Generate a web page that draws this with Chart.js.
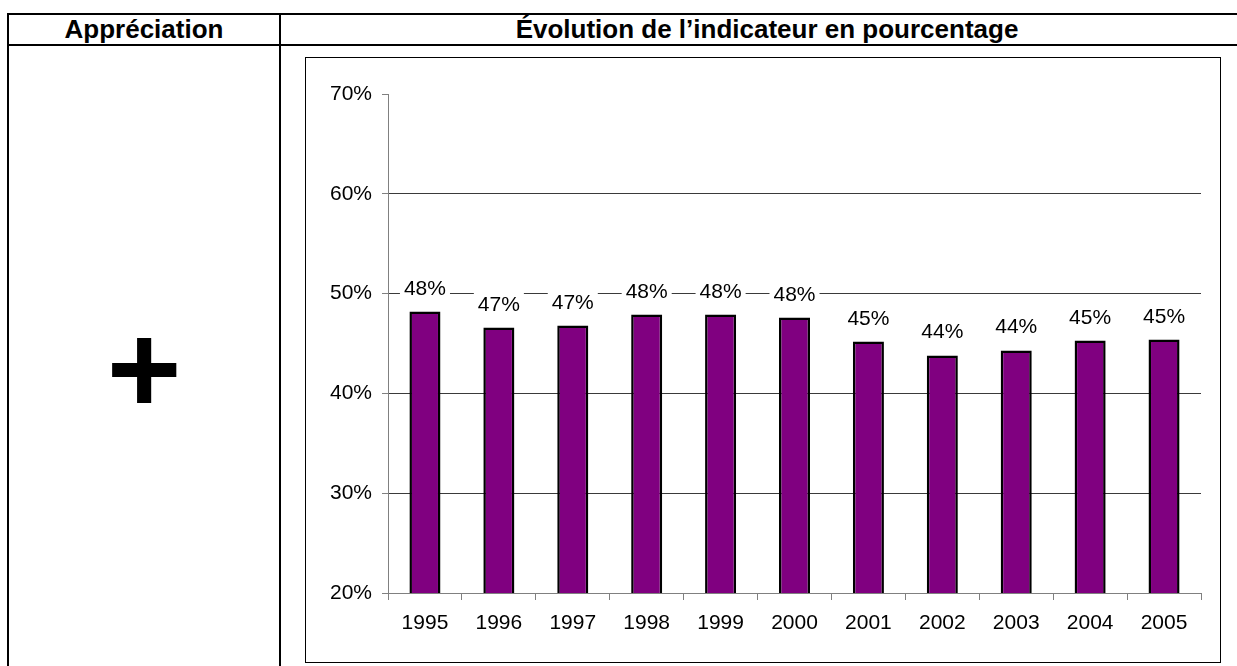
<!DOCTYPE html>
<html>
<head>
<meta charset="utf-8">
<script src="https://cdn.jsdelivr.net/npm/chart.js@4"></script>
<style>
  body { margin: 0; background: #fff; font-family: "Liberation Sans", Arial, sans-serif; }
  .page { position: relative; width: 1237px; height: 666px; overflow: hidden; }
  .line { position: absolute; background: #000; }
  .head { position: absolute; top: 14px; height: 31px; line-height: 31px; font-weight: bold; font-size: 26px; text-align: center; white-space: nowrap; }
  .plus { position: absolute; left: 8px; width: 272px; top: 304px; font-size: 128px; line-height: 130px; font-weight: bold; text-align: center; }
  .box { position: absolute; left: 305px; top: 57px; width: 914px; height: 604px; border: 1px solid #000; }
</style>
</head>
<body>
<div class="page">
  <div class="line" style="left:7px; top:13px; width:1230px; height:2px;"></div>
  <div class="line" style="left:7px; top:44px; width:1230px; height:2px;"></div>
  <div class="line" style="left:7px; top:13px; width:2px; height:653px;"></div>
  <div class="line" style="left:279px; top:13px; width:2px; height:653px;"></div>
  <div class="head" style="left:8px; width:272px;">Appréciation</div>
  <div class="head" style="left:280px; width:974px;">Évolution de l’indicateur en pourcentage</div>
  <div class="plus">+</div>
  <div class="box"><canvas id="chart" width="914" height="604"></canvas></div>
</div>
<script>
const years = ['1995', '1996', '1997', '1998', '1999', '2000', '2001', '2002', '2003', '2004', '2005'];
const values = [48.2, 46.6, 46.8, 47.9, 47.9, 47.6, 45.2, 43.8, 44.3, 45.3, 45.4];
const yTicks = [20, 30, 40, 50, 60, 70];

const FONT = '"Liberation Sans", Arial, sans-serif';

// value labels above bars, with white box hiding the gridline
const barLabels = {
    id: 'barLabels',
    afterDatasetsDraw(chart) {
        const ctx = chart.ctx;
        const meta = chart.getDatasetMeta(0);
        ctx.save();
        ctx.font = '21px ' + FONT;
        ctx.textAlign = 'center';
        ctx.textBaseline = 'alphabetic';
        meta.data.forEach((bar, i) => {
            const txt = Math.round(values[i]) + '%';
            const w = ctx.measureText(txt).width;
            const base = bar.y - 17;
            ctx.fillStyle = '#fff';
            ctx.fillRect(bar.x - w / 2 - 4, base - 19, w + 8, 22);
            ctx.fillStyle = '#000';
            ctx.fillText(txt, bar.x, base);
        });
        ctx.restore();
    }
};

new Chart(document.getElementById('chart'), {
    type: 'bar',
    data: {
        labels: years,
        datasets: [{
            data: values,
            backgroundColor: '#800080',
            borderColor: '#000',
            borderWidth: 2.5,
            borderSkipped: false,
            barPercentage: 0.42,
            categoryPercentage: 1
        }]
    },
    options: {
        responsive: false,
        animation: false,
        layout: { padding: { top: 36, right: 19, left: 0, bottom: 0 } },
        plugins: {
            legend: { display: false },
            tooltip: { enabled: false }
        },
        scales: {
            x: {
                afterFit: (scale) => { scale.height = 69; },
                grid: {
                    offset: true,
                    drawOnChartArea: false,
                    tickLength: 7,
                    tickColor: '#808080'
                },
                border: { color: '#808080' },
                ticks: {
                    color: '#000',
                    padding: 11,
                    font: { family: FONT, size: 21 }
                }
            },
            y: {
                min: yTicks[0],
                max: yTicks[yTicks.length - 1],
                afterFit: (scale) => { scale.width = 82; },
                afterBuildTicks: (scale) => { scale.ticks = yTicks.map(v => ({ value: v })); },
                grid: {
                    color: (c) => (c.tick && c.tick.value > 20 && c.tick.value < 70) ? '#3a3a3a' : 'rgba(0,0,0,0)',
                    tickLength: 6,
                    tickColor: '#808080'
                },
                border: { color: '#808080' },
                ticks: {
                    color: '#000',
                    padding: 10,
                    font: { family: FONT, size: 21 },
                    callback: (v) => v + '%'
                }
            }
        }
    },
    plugins: [barLabels]
});
</script>
</body>
</html>
